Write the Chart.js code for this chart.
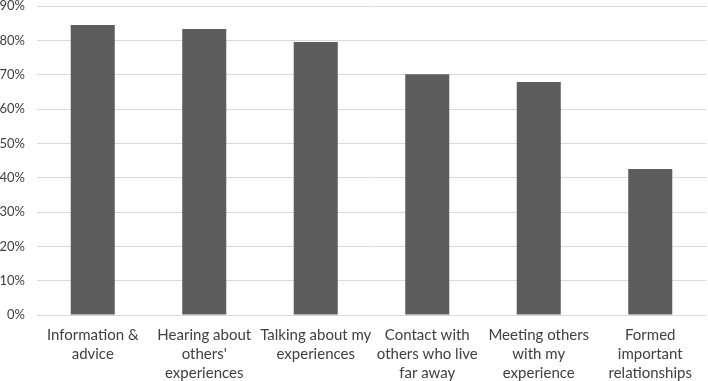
<!DOCTYPE html>
<html><head><meta charset="utf-8">
<script src="https://cdn.jsdelivr.net/npm/chart.js@4"></script>
<style>html,body{margin:0;padding:0;background:#fff;overflow:hidden}#w{width:708px;height:381px}</style>
</head><body><div id="w"><canvas id="c"></canvas></div>
<script>
const categories = [
  ["Information &", "advice"],
  ["Hearing about", "others'", "experiences"],
  ["Talking about my", "experiences"],
  ["Contact with", "others who live", "far away"],
  ["Meeting others", "with my", "experience"],
  ["Formed", "important", "relationships"]
];
const values = [84.5, 83.3, 79.5, 70.1, 67.9, 42.5];
const yTicks = [0, 10, 20, 30, 40, 50, 60, 70, 80, 90];

new Chart(document.getElementById('c'), {
  type: 'bar',
  data: { labels: categories, datasets: [{ data: values, backgroundColor: '#5d5d5d', borderWidth: 0, barPercentage: 0.395, categoryPercentage: 1 }] },
  options: {
    responsive: true, maintainAspectRatio: false, animation: false,
    layout: { padding: { top: 6, right: 2, left: 0, bottom: 0 } },
    plugins: { legend: { display: false }, tooltip: { enabled: false } },
    scales: {
      x: {
        grid: { display: false }, border: { display: false },
        afterFit: (s) => { s.height = 66; s.paddingLeft = 0; s.paddingRight = 0; s.paddingTop = 0; s.paddingBottom = 0; },
        ticks: { color: '#404040', font: { family: 'Lato', size: 15, lineHeight: 1.27 }, maxRotation: 0, autoSkip: false, padding: 3 }
      },
      y: {
        min: 0, max: 90,
        afterBuildTicks: (ax) => { ax.ticks = yTicks.map(v => ({ value: v })); },
        afterFit: (s) => { s.width = 37; s.paddingTop = 0; s.paddingBottom = 0; },
        grid: { color: '#d9d9d9', lineWidth: 1, drawTicks: false }, border: { display: false },
        ticks: { color: '#404040', font: { family: 'Lato', size: 13 }, padding: 12, callback: v => v + '%' }
      }
    }
  }
});
</script></body></html>
